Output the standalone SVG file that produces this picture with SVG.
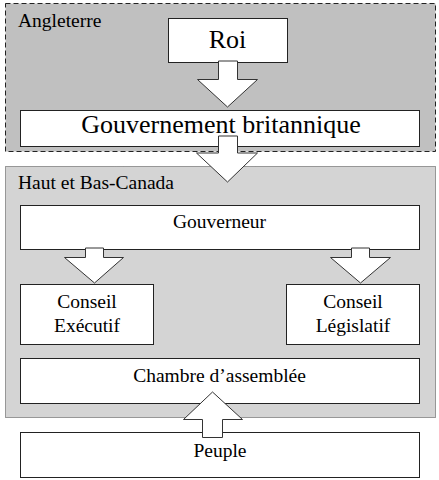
<svg xmlns="http://www.w3.org/2000/svg" width="439" height="480" viewBox="0 0 439 480">
<style>
.box{fill:#ffffff;stroke:#222222;stroke-width:1}
.arr{fill:#ffffff;stroke:#333333;stroke-width:1}
.c{text-anchor:middle}
.big{font-size:26px}
.med{font-size:19.5px}
</style>
<rect width="439" height="480" fill="#ffffff"/>
<g id="angleterre">
<rect x="5.5" y="3.5" width="430" height="148" fill="#c0c0c0" stroke="#222222" stroke-dasharray="5,3"/>
<text x="18" y="27" class="med" font-family="Liberation Serif" style="font-family:'Liberation Serif',serif">Angleterre</text>
</g>
<g id="haut-bas-canada">
<rect x="5.5" y="166.5" width="430" height="251" fill="#d4d4d4" stroke="#444444" stroke-dasharray="1,1"/>
<text x="18" y="189" class="med" font-family="Liberation Serif" style="font-family:'Liberation Serif',serif">Haut et Bas-Canada</text>
</g>
<g id="roi">
<rect class="box" x="168.5" y="18.5" width="119" height="44"/>
<text x="227.5" y="48" class="c big" font-family="Liberation Serif" style="font-family:'Liberation Serif',serif">Roi</text>
</g>
<g id="gouvernement-britannique">
<rect class="box" x="20.5" y="110.5" width="399" height="36"/>
<text x="221" y="133" class="c big" font-family="Liberation Serif" style="font-family:'Liberation Serif',serif">Gouvernement britannique</text>
</g>
<g id="gouverneur">
<rect class="box" x="20.5" y="205.5" width="399" height="44"/>
<text x="219.5" y="228" class="c med" font-family="Liberation Serif" style="font-family:'Liberation Serif',serif">Gouverneur</text>
</g>
<g id="conseil-executif">
<rect class="box" x="20.5" y="284.5" width="133" height="60"/>
<text x="87" y="308" class="c med" font-family="Liberation Serif" style="font-family:'Liberation Serif',serif">Conseil</text>
<text x="87" y="332" class="c med" font-family="Liberation Serif" style="font-family:'Liberation Serif',serif">Exécutif</text>
</g>
<g id="conseil-legislatif">
<rect class="box" x="286.5" y="284.5" width="133" height="60"/>
<text x="353" y="308" class="c med" font-family="Liberation Serif" style="font-family:'Liberation Serif',serif">Conseil</text>
<text x="353" y="332" class="c med" font-family="Liberation Serif" style="font-family:'Liberation Serif',serif">Législatif</text>
</g>
<g id="chambre-assemblee">
<rect class="box" x="20.5" y="358.5" width="399" height="45"/>
<text x="219.5" y="382" class="c med" font-family="Liberation Serif" style="font-family:'Liberation Serif',serif">Chambre d’assemblée</text>
</g>
<g id="peuple">
<rect class="box" x="20.5" y="432.5" width="399" height="45"/>
<text x="220" y="457" class="c med" font-family="Liberation Serif" style="font-family:'Liberation Serif',serif">Peuple</text>
</g>
<g id="connectors">
<polygon class="arr" points="218.5,61 237.5,61 237.5,79.5 257.5,79.5 227.5,107 197.5,79.5 218.5,79.5"/>
<polygon class="arr" points="218.5,136 237.5,136 237.5,153 257.5,153 227.5,182 196.5,153 218.5,153"/>
<polygon class="arr" points="85.5,248 103.5,248 103.5,257.5 123.5,257.5 94.5,283 64.5,257.5 85.5,257.5"/>
<polygon class="arr" points="351.5,248 369.5,248 369.5,257.5 390.5,257.5 360.5,283 330.5,257.5 351.5,257.5"/>
<polygon class="arr" points="202.5,437.5 222.5,437.5 222.5,419.5 242.5,419.5 212.5,392 183.5,419.5 202.5,419.5"/>
</g>
</svg>
